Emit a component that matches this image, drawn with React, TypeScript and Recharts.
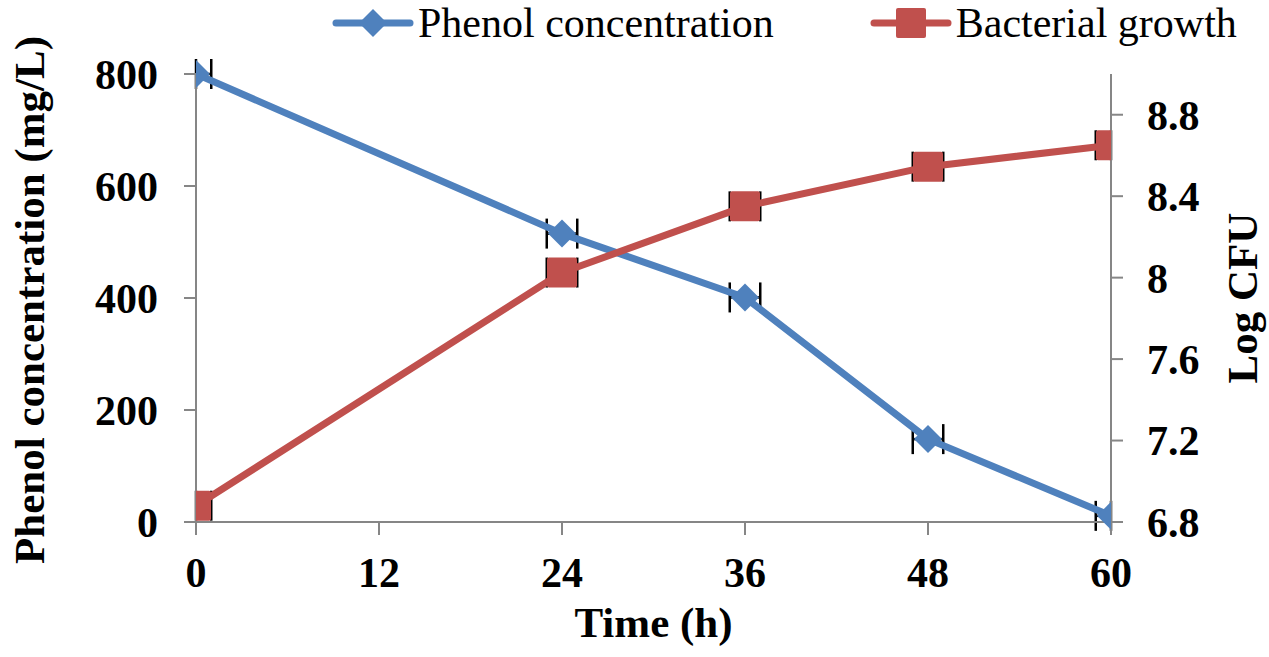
import React from "react";
import {
  ComposedChart,
  Line,
  Scatter,
  XAxis,
  YAxis,
  Legend,
  Label,
  ErrorBar,
} from "recharts";

// sampling times (h) and measured values
const hours = [0, 24, 36, 48, 60];
const phenolConc = [800, 515, 401, 148, 11];
const logCfu = [6.88, 8.025, 8.35, 8.545, 8.65];
// time error bars (h), lower / upper side (cut at the axis ends)
const hourErrLow = [0, 1, 1, 1, 1];
const hourErrHigh = [1, 1, 1, 1, 0];

const xTicks = [0, 12, 24, 36, 48, 60];
const phenolTicks = [0, 200, 400, 600, 800];
const cfuTicks = [6.8, 7.2, 7.6, 8, 8.4, 8.8];

const BLUE = "#4F81BD";
const RED = "#C0504D";
const AXIS = "#868686";
const FONT = '"Liberation Serif", "Times New Roman", serif';

const data = hours.map((h, i) => ({
  hour: h,
  phenol: phenolConc[i],
  cfu: logCfu[i],
  err: [hourErrLow[i], hourErrHigh[i]],
}));

const tickStyle = { fill: "#000", fontSize: 42, fontWeight: 700, fontFamily: FONT };
const titleStyle = { fontSize: 43, fontWeight: 700, fontFamily: FONT, fill: "#000" };

function Diamond(props: any) {
  const { cx, cy, index } = props;
  if (cx == null || cy == null) return null;
  const r = 14;
  return (
    <path
      key={`d-${index}`}
      d={`M${cx},${cy - r}L${cx + r},${cy}L${cx},${cy + r}L${cx - r},${cy}Z`}
      fill={BLUE}
    />
  );
}

function Square(props: any) {
  const { cx, cy, index } = props;
  if (cx == null || cy == null) return null;
  const s = 15;
  return <rect key={`s-${index}`} x={cx - s} y={cy - s} width={s * 2} height={s * 2} rx={2} fill={RED} />;
}

const NoShape = () => <g />;

function LegendIcon({ color, shape }: { color: string; shape: "diamond" | "square" }) {
  return (
    <svg width={82} height={34} style={{ display: "block" }}>
      <line x1={4} y1={17} x2={78} y2={17} stroke={color} strokeWidth={7} strokeLinecap="round" />
      {shape === "diamond" ? (
        <path d="M41,3L55,17L41,31L27,17Z" fill={color} />
      ) : (
        <rect x={26} y={2} width={30} height={30} rx={2} fill={color} />
      )}
    </svg>
  );
}

function TopLegend() {
  return (
    <div
      style={{
        display: "flex",
        alignItems: "center",
        height: 46,
        paddingLeft: 332,
        fontFamily: FONT,
        fontSize: 42,
        color: "#000",
        whiteSpace: "nowrap",
      }}
    >
      <LegendIcon color={BLUE} shape="diamond" />
      <span style={{ marginLeft: 4 }}>Phenol concentration</span>
      <span style={{ width: 96 }} />
      <LegendIcon color={RED} shape="square" />
      <span style={{ marginLeft: 4 }}>Bacterial growth</span>
    </div>
  );
}

export default function App() {
  return (
    <div style={{ position: "absolute", left: 0, top: 0, width: 1269, height: 657, background: "#fff" }}>
      <ComposedChart width={1269} height={657} data={data} margin={{ top: 28, right: 0, bottom: 0, left: 0 }}>
        <Legend
          verticalAlign="top"
          align="left"
          content={() => <TopLegend />}
          wrapperStyle={{ left: 0, top: 0, width: 1269 }}
        />
        <XAxis
          dataKey="hour"
          type="number"
          domain={[0, 60]}
          allowDataOverflow
          ticks={xTicks}
          height={135}
          stroke={AXIS}
          strokeWidth={2}
          tickSize={13}
          tickMargin={22}
          tick={tickStyle}
          tickLine={{ stroke: AXIS, strokeWidth: 2 }}
        >
          <Label
            content={(p: any) => {
              const vb = p.viewBox;
              return (
                <text x={vb.x + vb.width / 2} y={vb.y + 115} textAnchor="middle" style={titleStyle}>
                  Time (h)
                </text>
              );
            }}
          />
        </XAxis>
        <YAxis
          yAxisId="left"
          domain={[0, 800]}
          ticks={phenolTicks}
          width={196}
          stroke={AXIS}
          strokeWidth={2}
          tickSize={12}
          tickMargin={26}
          tick={tickStyle}
          tickLine={{ stroke: AXIS, strokeWidth: 2 }}
        >
          <Label
            content={(p: any) => {
              const vb = p.viewBox;
              const x = vb.x + 44;
              const y = vb.y + vb.height / 2 + 2;
              return (
                <text x={x} y={y} transform={`rotate(-90 ${x} ${y})`} textAnchor="middle" style={titleStyle}>
                  Phenol concentration (mg/L)
                </text>
              );
            }}
          />
        </YAxis>
        <YAxis
          yAxisId="right"
          orientation="right"
          domain={[6.8, 9.0]}
          ticks={cfuTicks}
          width={158}
          stroke={AXIS}
          strokeWidth={2}
          tickSize={12}
          tickMargin={24}
          tick={tickStyle}
          tickLine={{ stroke: AXIS, strokeWidth: 2 }}
        >
          <Label
            content={(p: any) => {
              const vb = p.viewBox;
              const x = vb.x + 146;
              const y = vb.y + vb.height / 2;
              return (
                <text x={x} y={y} transform={`rotate(-90 ${x} ${y})`} textAnchor="middle" style={titleStyle}>
                  Log CFU
                </text>
              );
            }}
          />
        </YAxis>
        <Scatter yAxisId="left" dataKey="phenol" shape={NoShape} isAnimationActive={false}>
          <ErrorBar dataKey="err" direction="x" width={15} stroke="#000" strokeWidth={2.5} isAnimationActive={false} />
        </Scatter>
        <Scatter yAxisId="right" dataKey="cfu" shape={NoShape} isAnimationActive={false}>
          <ErrorBar dataKey="err" direction="x" width={15} stroke="#000" strokeWidth={2.5} isAnimationActive={false} />
        </Scatter>
        <Line
          yAxisId="left"
          dataKey="phenol"
          stroke={BLUE}
          strokeWidth={7}
          strokeLinejoin="round"
          dot={Diamond}
          activeDot={false}
          isAnimationActive={false}
        />
        <Line
          yAxisId="right"
          dataKey="cfu"
          stroke={RED}
          strokeWidth={7}
          strokeLinejoin="round"
          dot={Square}
          activeDot={false}
          isAnimationActive={false}
        />
      </ComposedChart>
    </div>
  );
}
